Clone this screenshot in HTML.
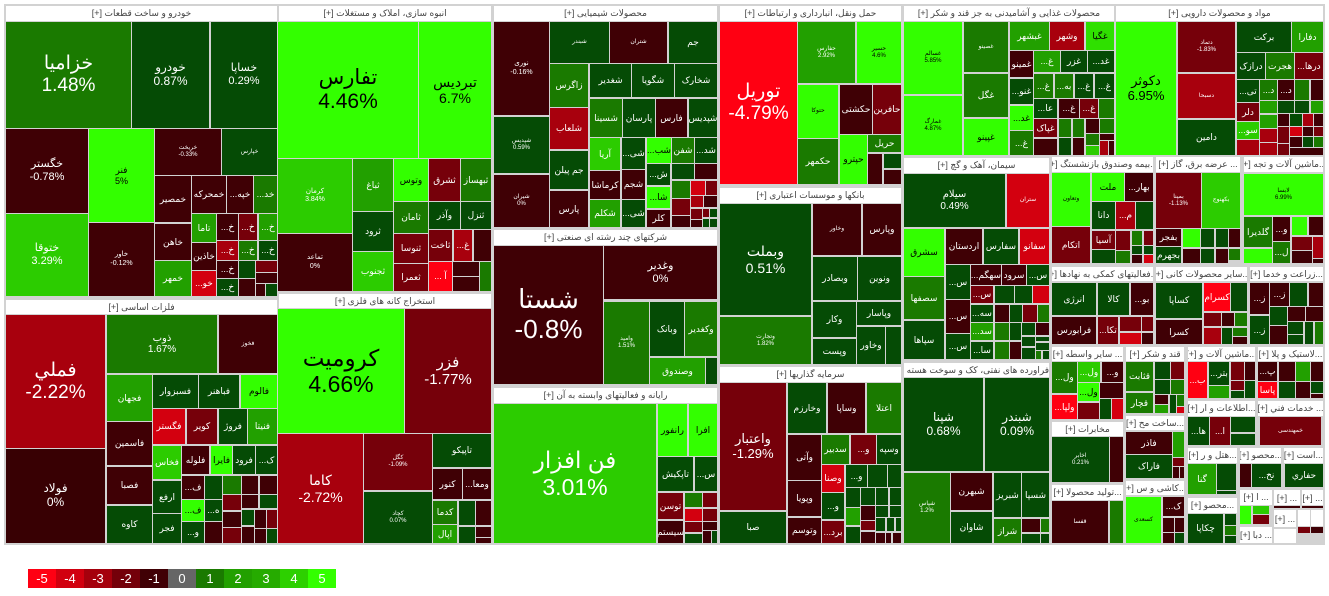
<!DOCTYPE html>
<html><head><meta charset="utf-8">
<style>
html,body{margin:0;padding:0;}
body{width:1329px;height:596px;position:relative;overflow:hidden;background:#fff;font-family:"Liberation Sans","DejaVu Sans",sans-serif;}
#m{position:absolute;left:4px;top:4px;width:1321px;height:541px;background:#d2d2d2;}
.t{position:absolute;display:flex;align-items:center;justify-content:center;text-align:center;color:#fff;overflow:hidden;font-size:9px;line-height:1.15;white-space:nowrap;}
.h{position:absolute;background:#fff;color:#444;font-size:9px;display:flex;align-items:center;justify-content:center;direction:rtl;overflow:hidden;white-space:nowrap;height:15px;}
.g0{background:#054b05}.g1{background:#1a7a00}.g2{background:#22a000}.g3{background:#2ccc00}.g4{background:#33ff00;color:#000}
.r0{background:#3f0005}.r1{background:#76000a}.r2{background:#a8000d}.r3{background:#d3000f}.r4{background:#ff0012}
.w{background:#fff}
.lg{position:absolute;top:569px;width:28px;height:19px;color:#fff;font-size:13px;display:flex;align-items:center;justify-content:center;}
</style></head><body>
<div id="m"></div>

<!-- خودرو -->
<div class="h" style="left:6px;top:6px;width:271px">خودرو و ساخت قطعات [+]</div>
<div class="t g1" style="left:6px;top:22px;width:125px;height:106px;font-size:19px">خزامیا<br>1.48%</div>
<div class="t g0" style="left:132px;top:22px;width:77px;height:106px;font-size:12px">خودرو<br>0.87%</div>
<div class="t g0" style="left:211px;top:22px;width:66px;height:106px;font-size:11px">خساپا<br>0.29%</div>
<div class="t r0" style="left:6px;top:129px;width:82px;height:84px;font-size:11px">خگستر<br>-0.78%</div>
<div class="t g4" style="left:89px;top:129px;width:65px;height:93px">فنر<br>5%</div>
<div class="t g3" style="left:6px;top:214px;width:82px;height:82px;font-size:11px">ختوقا<br>3.29%</div>
<div class="t r0" style="left:89px;top:223px;width:65px;height:73px;font-size:7px">خاور<br>-0.12%</div>
<div class="t r0" style="left:155px;top:129px;width:66px;height:46px;font-size:6px">خریخت<br>-0.33%</div>
<div class="t g0" style="left:222px;top:129px;width:55px;height:46px;font-size:6px">خپارس</div>
<div class="t r0" style="left:155px;top:176px;width:36px;height:46px">خمصیر</div>
<div class="t r0" style="left:192px;top:176px;width:34px;height:37px">خمحرکه</div>
<div class="t r0" style="left:227px;top:176px;width:26px;height:37px">...خپه</div>
<div class="t g1" style="left:254px;top:176px;width:23px;height:37px">...خد</div>
<div class="t r0" style="left:155px;top:224px;width:36px;height:36px">خاهن</div>
<div class="t g2" style="left:155px;top:261px;width:36px;height:35px">خمهر</div>
<div class="t g2" style="left:192px;top:214px;width:24px;height:28px">تاما</div>
<div class="t r0" style="left:192px;top:243px;width:24px;height:27px">خاذین</div>
<div class="t r3" style="left:192px;top:271px;width:24px;height:25px">...خو</div>
<div class="t r0" style="left:217px;top:214px;width:21px;height:26px">...خ</div>
<div class="t r1" style="left:239px;top:214px;width:18px;height:26px">...خ</div>
<div class="t g2" style="left:259px;top:214px;width:18px;height:26px">...خ</div>
<div class="t r2" style="left:217px;top:241px;width:21px;height:19px">...خ</div>
<div class="t g1" style="left:239px;top:241px;width:18px;height:19px">...خ</div>
<div class="t g0" style="left:259px;top:241px;width:18px;height:19px">...خ</div>
<div class="t r0" style="left:217px;top:261px;width:21px;height:17px">...خ</div>
<div class="t g0" style="left:217px;top:279px;width:21px;height:17px">...خ</div>
<div class="t g0" style="left:239px;top:261px;width:16px;height:17px"></div>
<div class="t r0" style="left:239px;top:279px;width:16px;height:17px"></div>
<div class="t r1" style="left:256px;top:261px;width:21px;height:11px"></div>
<div class="t r0" style="left:256px;top:273px;width:21px;height:10px"></div>
<div class="t r0" style="left:256px;top:284px;width:9px;height:12px"></div>
<div class="t g0" style="left:266px;top:284px;width:11px;height:12px"></div>

<!-- فلزات اساسی -->
<div class="h" style="left:6px;top:300px;width:271px;height:14px">فلزات اساسی [+]</div>
<div class="t r2" style="left:6px;top:315px;width:99px;height:133px;font-size:19px">فملي<br>-2.22%</div>
<div class="t r0" style="left:6px;top:449px;width:99px;height:94px;font-size:12px;background:#380003">فولاد<br>0%</div>
<div class="t g1" style="left:107px;top:315px;width:110px;height:58px;font-size:10px">ذوب<br>1.67%</div>
<div class="t r0" style="left:219px;top:315px;width:58px;height:58px;font-size:6px">فخوز</div>
<div class="t g2" style="left:107px;top:375px;width:45px;height:46px">فجهان</div>
<div class="t g0" style="left:153px;top:375px;width:45px;height:33px">فسبزوار</div>
<div class="t g0" style="left:199px;top:375px;width:40px;height:33px">فباهنر</div>
<div class="t g4" style="left:241px;top:375px;width:36px;height:33px">فالوم</div>
<div class="t r0" style="left:107px;top:422px;width:45px;height:43px">فاسمین</div>
<div class="t r0" style="left:107px;top:467px;width:45px;height:37px">فصبا</div>
<div class="t g0" style="left:107px;top:506px;width:45px;height:37px">کاوه</div>
<div class="t r3" style="left:153px;top:409px;width:32px;height:35px">فگستر</div>
<div class="t r1" style="left:187px;top:409px;width:30px;height:35px">کویر</div>
<div class="t g0" style="left:219px;top:409px;width:28px;height:35px">فروژ</div>
<div class="t g2" style="left:248px;top:409px;width:29px;height:35px">فنیتا</div>
<div class="t g3" style="left:153px;top:446px;width:28px;height:33px">فخاس</div>
<div class="t r0" style="left:182px;top:446px;width:27px;height:28px">فلوله</div>
<div class="t g4" style="left:211px;top:446px;width:21px;height:28px">فایرا</div>
<div class="t g0" style="left:233px;top:446px;width:22px;height:28px">فرود</div>
<div class="t g0" style="left:256px;top:446px;width:21px;height:28px">...ک</div>
<div class="t g0" style="left:153px;top:481px;width:28px;height:32px">ارفع</div>
<div class="t g0" style="left:153px;top:514px;width:28px;height:29px">فجر</div>
<div class="t r0" style="left:182px;top:476px;width:22px;height:23px">...ف</div>
<div class="t g4" style="left:182px;top:500px;width:22px;height:21px">...ف</div>
<div class="t g0" style="left:182px;top:522px;width:22px;height:21px">...و</div>
<div class="t g0" style="left:205px;top:476px;width:17px;height:23px"></div>
<div class="t g0" style="left:205px;top:500px;width:17px;height:21px">...ه</div>
<div class="t r0" style="left:205px;top:522px;width:17px;height:21px"></div>
<div class="t g1" style="left:223px;top:476px;width:18px;height:18px"></div>
<div class="t r1" style="left:223px;top:495px;width:18px;height:15px"></div>
<div class="t r0" style="left:223px;top:512px;width:18px;height:15px"></div>
<div class="t r1" style="left:223px;top:528px;width:18px;height:15px"></div>
<div class="t r0" style="left:242px;top:476px;width:16px;height:18px"></div>
<div class="t r0" style="left:260px;top:476px;width:17px;height:18px"></div>
<div class="t r0" style="left:242px;top:495px;width:16px;height:13px"></div>
<div class="t g0" style="left:260px;top:495px;width:17px;height:13px"></div>
<div class="t g0" style="left:242px;top:510px;width:12px;height:15px"></div>
<div class="t r0" style="left:255px;top:510px;width:11px;height:18px"></div>
<div class="t r1" style="left:267px;top:510px;width:10px;height:18px"></div>
<div class="t r0" style="left:242px;top:527px;width:12px;height:16px"></div>
<div class="t r0" style="left:255px;top:529px;width:11px;height:14px"></div>
<div class="t g0" style="left:267px;top:529px;width:10px;height:14px"></div>

<!-- انبوه سازی -->
<div class="h" style="left:279px;top:6px;width:212px">انبوه سازی، املاک و مستغلات [+]</div>
<div class="t g4" style="left:278px;top:22px;width:140px;height:136px;font-size:21px">تفارس<br>4.46%</div>
<div class="t g4" style="left:419px;top:22px;width:72px;height:136px;font-size:14px">تبردیس<br>6.7%</div>
<div class="t g3" style="left:278px;top:159px;width:74px;height:74px;font-size:7px">کرمان<br>3.84%</div>
<div class="t r0" style="left:278px;top:234px;width:74px;height:57px;font-size:7px">تماعد<br>0%</div>
<div class="t g2" style="left:353px;top:159px;width:40px;height:52px">ثباغ</div>
<div class="t g0" style="left:353px;top:212px;width:40px;height:39px">ثرود</div>
<div class="t g3" style="left:353px;top:252px;width:40px;height:39px">ثجنوب</div>
<div class="t g4" style="left:394px;top:159px;width:34px;height:42px">وتوس</div>
<div class="t g1" style="left:394px;top:202px;width:34px;height:31px">ثامان</div>
<div class="t r1" style="left:394px;top:234px;width:34px;height:29px">ثنوسا</div>
<div class="t r1" style="left:394px;top:264px;width:34px;height:27px">ثعمرا</div>
<div class="t r1" style="left:429px;top:159px;width:31px;height:42px">ثشرق</div>
<div class="t g0" style="left:429px;top:202px;width:31px;height:27px">وآذر</div>
<div class="t r1" style="left:429px;top:230px;width:23px;height:31px">ثاخت</div>
<div class="t r2" style="left:454px;top:230px;width:18px;height:31px">...غ</div>
<div class="t r4" style="left:429px;top:262px;width:23px;height:29px">... آ</div>
<div class="t g1" style="left:461px;top:159px;width:30px;height:42px">ثبهساز</div>
<div class="t g0" style="left:461px;top:202px;width:30px;height:27px">ثنزل</div>
<div class="t r0" style="left:474px;top:230px;width:17px;height:31px"></div>
<div class="t r0" style="left:453px;top:262px;width:26px;height:14px"></div>
<div class="t r0" style="left:453px;top:277px;width:26px;height:14px"></div>
<div class="t g1" style="left:480px;top:262px;width:11px;height:29px"></div>

<!-- استخراج کانه -->
<div class="h" style="left:279px;top:294px;width:212px;height:14px">استخراج کانه های فلزی [+]</div>
<div class="t g4" style="left:278px;top:309px;width:126px;height:124px;font-size:23px">کرومیت<br>4.66%</div>
<div class="t r1" style="left:405px;top:309px;width:86px;height:124px;font-size:15px">فزر<br>-1.77%</div>
<div class="t r2" style="left:278px;top:434px;width:85px;height:109px;font-size:14px">کاما<br>-2.72%</div>
<div class="t r1" style="left:364px;top:434px;width:68px;height:56px;font-size:6px">کگل<br>-1.09%</div>
<div class="t g0" style="left:364px;top:492px;width:68px;height:51px;font-size:6px">کچاد<br>0.07%</div>
<div class="t g0" style="left:433px;top:434px;width:58px;height:33px">تاپیکو</div>
<div class="t r0" style="left:433px;top:469px;width:29px;height:30px">کنور</div>
<div class="t r0" style="left:463px;top:469px;width:28px;height:30px">...ومعا</div>
<div class="t g1" style="left:433px;top:501px;width:24px;height:23px">کدما</div>
<div class="t g2" style="left:433px;top:525px;width:24px;height:18px">اپال</div>
<div class="t g0" style="left:459px;top:501px;width:16px;height:24px"></div>
<div class="t r0" style="left:476px;top:501px;width:15px;height:24px"></div>
<div class="t g0" style="left:459px;top:527px;width:16px;height:16px"></div>
<div class="t r0" style="left:476px;top:527px;width:15px;height:10px"></div>
<div class="t r0" style="left:476px;top:538px;width:15px;height:5px"></div>

<!-- شیمیایی -->
<div class="h" style="left:494px;top:6px;width:223px">محصولات شیمیایی [+]</div>
<div class="t r0" style="left:494px;top:22px;width:55px;height:93px;font-size:7px">نوری<br>-0.16%</div>
<div class="t g0" style="left:494px;top:117px;width:55px;height:56px;font-size:6px">شپدیس<br>0.59%</div>
<div class="t r0" style="left:494px;top:175px;width:55px;height:52px;font-size:6px">شیران<br>0%</div>
<div class="t g0" style="left:550px;top:22px;width:59px;height:41px;font-size:6px">شبندر</div>
<div class="t r0" style="left:610px;top:22px;width:57px;height:41px;font-size:6px">شتران</div>
<div class="t g0" style="left:669px;top:22px;width:48px;height:41px">جم</div>
<div class="t g1" style="left:550px;top:64px;width:38px;height:43px">زاگرس</div>
<div class="t r2" style="left:550px;top:108px;width:38px;height:41px">شلعاب</div>
<div class="t g0" style="left:550px;top:151px;width:38px;height:38px">جم پیلن</div>
<div class="t r0" style="left:550px;top:191px;width:38px;height:36px">پارس</div>
<div class="t g0" style="left:590px;top:64px;width:41px;height:33px">شغدیر</div>
<div class="t g0" style="left:632px;top:64px;width:42px;height:33px">شگویا</div>
<div class="t g0" style="left:675px;top:64px;width:42px;height:33px">شخارک</div>
<div class="t g1" style="left:590px;top:99px;width:32px;height:38px">شسینا</div>
<div class="t g0" style="left:623px;top:99px;width:32px;height:38px">پارسان</div>
<div class="t r0" style="left:656px;top:99px;width:31px;height:38px">فارس</div>
<div class="t g0" style="left:689px;top:99px;width:28px;height:38px">شپدیس</div>
<div class="t g3" style="left:590px;top:138px;width:30px;height:32px">آریا</div>
<div class="t r0" style="left:590px;top:171px;width:30px;height:28px">کرماشا</div>
<div class="t g2" style="left:590px;top:200px;width:30px;height:27px">شکلم</div>
<div class="t g0" style="left:622px;top:138px;width:23px;height:31px">...شی</div>
<div class="t r0" style="left:622px;top:170px;width:23px;height:29px">شجم</div>
<div class="t g0" style="left:622px;top:200px;width:23px;height:27px">...شی</div>
<div class="t g4" style="left:647px;top:138px;width:24px;height:25px">...شب</div>
<div class="t g1" style="left:672px;top:138px;width:22px;height:25px">شفن</div>
<div class="t g0" style="left:695px;top:138px;width:22px;height:25px">...شد</div>
<div class="t g0" style="left:647px;top:164px;width:23px;height:21px">...ش</div>
<div class="t g4" style="left:647px;top:187px;width:23px;height:21px">...شا</div>
<div class="t r0" style="left:647px;top:210px;width:23px;height:17px">کلر</div>
<div class="t g0" style="left:672px;top:164px;width:22px;height:15px"></div>
<div class="t r0" style="left:695px;top:164px;width:22px;height:15px"></div>
<div class="t g1" style="left:672px;top:181px;width:18px;height:17px"></div>
<div class="t r3" style="left:691px;top:181px;width:14px;height:14px"></div>
<div class="t r1" style="left:706px;top:181px;width:11px;height:14px"></div>
<div class="t r1" style="left:672px;top:199px;width:18px;height:16px"></div>
<div class="t r0" style="left:672px;top:216px;width:18px;height:11px"></div>
<div class="t r2" style="left:691px;top:196px;width:12px;height:11px"></div>
<div class="t r0" style="left:704px;top:196px;width:13px;height:11px"></div>
<div class="t r1" style="left:691px;top:209px;width:11px;height:10px"></div>
<div class="t r0" style="left:691px;top:220px;width:11px;height:7px"></div>
<div class="t r1" style="left:703px;top:209px;width:6px;height:8px"></div>
<div class="t g0" style="left:710px;top:209px;width:7px;height:8px"></div>
<div class="t g0" style="left:703px;top:219px;width:6px;height:8px"></div>
<div class="t g0" style="left:710px;top:219px;width:7px;height:8px"></div>

<!-- چند رشته ای -->
<div class="h" style="left:494px;top:230px;width:223px">شرکتهای چند رشته ای صنعتی [+]</div>
<div class="t r0" style="left:494px;top:246px;width:109px;height:138px;font-size:26px">شستا<br>-0.8%</div>
<div class="t r0" style="left:604px;top:246px;width:113px;height:53px;font-size:11px">وغدیر<br>0%</div>
<div class="t g1" style="left:604px;top:302px;width:45px;height:82px;font-size:6px">وامید<br>1.51%</div>
<div class="t g0" style="left:650px;top:302px;width:34px;height:54px">وبانک</div>
<div class="t g1" style="left:685px;top:302px;width:32px;height:54px">وکغدیر</div>
<div class="t g2" style="left:650px;top:358px;width:55px;height:26px">وصندوق</div>
<div class="t g0" style="left:706px;top:358px;width:11px;height:26px"></div>

<!-- رایانه -->
<div class="h" style="left:494px;top:388px;width:223px">رایانه و فعالیتهای وابسته به آن [+]</div>
<div class="t g3" style="left:494px;top:404px;width:162px;height:139px;font-size:23px">فن افزار<br>3.01%</div>
<div class="t g4" style="left:658px;top:404px;width:29px;height:52px">رانفور</div>
<div class="t g4" style="left:689px;top:404px;width:28px;height:52px">افرا</div>
<div class="t g0" style="left:658px;top:457px;width:35px;height:34px">تاپکیش</div>
<div class="t g0" style="left:695px;top:457px;width:22px;height:34px">...س</div>
<div class="t r1" style="left:658px;top:493px;width:25px;height:26px">توسن</div>
<div class="t r0" style="left:658px;top:521px;width:25px;height:22px">سیستم</div>
<div class="t g1" style="left:685px;top:493px;width:17px;height:14px"></div>
<div class="t r1" style="left:703px;top:493px;width:14px;height:14px"></div>
<div class="t r3" style="left:685px;top:509px;width:17px;height:12px"></div>
<div class="t r1" style="left:703px;top:509px;width:14px;height:12px"></div>
<div class="t r1" style="left:685px;top:522px;width:17px;height:10px"></div>
<div class="t r0" style="left:703px;top:522px;width:14px;height:8px"></div>
<div class="t g0" style="left:685px;top:534px;width:17px;height:9px"></div>
<div class="t r0" style="left:703px;top:531px;width:8px;height:12px"></div>
<div class="t g0" style="left:712px;top:531px;width:5px;height:12px"></div>

<!-- حمل و نقل -->
<div class="h" style="left:720px;top:6px;width:181px">حمل ونقل، انبارداری و ارتباطات [+]</div>
<div class="t r4" style="left:720px;top:22px;width:77px;height:162px;font-size:19px">توریل<br>-4.79%</div>
<div class="t g2" style="left:798px;top:22px;width:57px;height:61px;font-size:6px">حفارس<br>2.92%</div>
<div class="t g4" style="left:857px;top:22px;width:44px;height:61px;font-size:6px">حسیر<br>4.6%</div>
<div class="t g4" style="left:798px;top:85px;width:40px;height:53px;font-size:6px">حتوکا</div>
<div class="t r0" style="left:840px;top:85px;width:32px;height:49px">حکشتی</div>
<div class="t r1" style="left:873px;top:85px;width:28px;height:49px">حافرین</div>
<div class="t g1" style="left:798px;top:139px;width:40px;height:45px">حکمهر</div>
<div class="t g4" style="left:840px;top:135px;width:27px;height:49px">حپترو</div>
<div class="t g1" style="left:868px;top:135px;width:33px;height:17px">حریل</div>
<div class="t r0" style="left:868px;top:154px;width:14px;height:30px"></div>
<div class="t g0" style="left:884px;top:154px;width:17px;height:14px"></div>
<div class="t r0" style="left:884px;top:170px;width:17px;height:14px"></div>

<!-- بانکها -->
<div class="h" style="left:720px;top:188px;width:181px">بانکها و موسسات اعتباری [+]</div>
<div class="t g0" style="left:720px;top:204px;width:91px;height:111px;font-size:14px">وبملت<br>0.51%</div>
<div class="t g1" style="left:720px;top:317px;width:91px;height:47px;font-size:6px">وتجارت<br>1.82%</div>
<div class="t r0" style="left:813px;top:204px;width:48px;height:51px;font-size:6px">وخاور</div>
<div class="t r0" style="left:863px;top:204px;width:38px;height:51px">وپارس</div>
<div class="t g0" style="left:813px;top:257px;width:44px;height:43px">وبصادر</div>
<div class="t g0" style="left:858px;top:257px;width:43px;height:43px">ونوین</div>
<div class="t g0" style="left:813px;top:302px;width:43px;height:35px">وکار</div>
<div class="t g0" style="left:813px;top:339px;width:43px;height:25px">وپست</div>
<div class="t g0" style="left:857px;top:302px;width:44px;height:23px">وپاسار</div>
<div class="t g0" style="left:857px;top:327px;width:28px;height:37px">وخاور</div>
<div class="t g0" style="left:886px;top:327px;width:15px;height:37px"></div>

<!-- سرمایه گذاریها -->
<div class="h" style="left:720px;top:367px;width:181px">سرمایه گذاریها [+]</div>
<div class="t r1" style="left:720px;top:383px;width:66px;height:127px;font-size:13px">واعتبار<br>-1.29%</div>
<div class="t g0" style="left:720px;top:512px;width:66px;height:31px">صبا</div>
<div class="t g0" style="left:788px;top:383px;width:38px;height:50px">وخارزم</div>
<div class="t r0" style="left:828px;top:383px;width:37px;height:50px">وساپا</div>
<div class="t g1" style="left:867px;top:383px;width:34px;height:50px">اعتلا</div>
<div class="t r0" style="left:788px;top:435px;width:33px;height:45px">وآتی</div>
<div class="t r0" style="left:788px;top:481px;width:33px;height:35px">وپویا</div>
<div class="t r0" style="left:788px;top:518px;width:33px;height:25px">وتوسم</div>
<div class="t g1" style="left:822px;top:435px;width:27px;height:29px">سدبیر</div>
<div class="t r1" style="left:851px;top:435px;width:25px;height:29px">...و</div>
<div class="t g0" style="left:877px;top:435px;width:24px;height:29px">وسپه</div>
<div class="t r3" style="left:822px;top:465px;width:22px;height:27px">وصنا</div>
<div class="t g0" style="left:846px;top:465px;width:21px;height:22px">...و</div>
<div class="t g0" style="left:868px;top:465px;width:19px;height:22px"></div>
<div class="t g0" style="left:888px;top:465px;width:13px;height:22px"></div>
<div class="t g0" style="left:822px;top:493px;width:22px;height:26px">...و</div>
<div class="t r1" style="left:822px;top:521px;width:22px;height:22px">...برد</div>
<div class="t g0" style="left:846px;top:488px;width:14px;height:19px"></div>
<div class="t g0" style="left:861px;top:488px;width:14px;height:17px"></div>
<div class="t g0" style="left:876px;top:488px;width:12px;height:17px"></div>
<div class="t g0" style="left:890px;top:488px;width:11px;height:17px"></div>
<div class="t g2" style="left:846px;top:508px;width:14px;height:17px"></div>
<div class="t g0" style="left:846px;top:527px;width:14px;height:16px"></div>
<div class="t r0" style="left:861px;top:506px;width:14px;height:14px"></div>
<div class="t r1" style="left:861px;top:521px;width:14px;height:9px"></div>
<div class="t r0" style="left:861px;top:532px;width:14px;height:11px"></div>
<div class="t g0" style="left:876px;top:506px;width:12px;height:11px"></div>
<div class="t g0" style="left:890px;top:506px;width:11px;height:11px"></div>
<div class="t g0" style="left:876px;top:518px;width:9px;height:13px"></div>
<div class="t g0" style="left:887px;top:518px;width:7px;height:13px"></div>
<div class="t g0" style="left:896px;top:518px;width:5px;height:13px"></div>
<div class="t r0" style="left:876px;top:533px;width:9px;height:10px"></div>
<div class="t r0" style="left:886px;top:533px;width:5px;height:10px"></div>
<div class="t r0" style="left:893px;top:533px;width:8px;height:10px"></div>

<!-- غذایی -->
<div class="h" style="left:904px;top:6px;width:210px">محصولات غذایی و آشامیدنی به جز قند و شکر [+]</div>
<div class="t g4" style="left:904px;top:22px;width:58px;height:72px;font-size:6px">غسالم<br>5.85%</div>
<div class="t g4" style="left:904px;top:96px;width:58px;height:59px;font-size:6px">غمارگ<br>4.87%</div>
<div class="t g1" style="left:964px;top:22px;width:44px;height:50px;font-size:6px">غصینو</div>
<div class="t g1" style="left:964px;top:74px;width:44px;height:43px">غگل</div>
<div class="t g4" style="left:964px;top:119px;width:44px;height:36px">غپینو</div>
<div class="t g2" style="left:1010px;top:22px;width:39px;height:28px">غبشهر</div>
<div class="t r2" style="left:1050px;top:22px;width:34px;height:28px">وشهر</div>
<div class="t g4" style="left:1086px;top:22px;width:28px;height:28px;background:#2fe000">غگیا</div>
<div class="t r0" style="left:1010px;top:51px;width:23px;height:26px">غمینو</div>
<div class="t g0" style="left:1010px;top:79px;width:23px;height:25px">...غنو</div>
<div class="t g4" style="left:1010px;top:106px;width:23px;height:24px">...غد</div>
<div class="t g1" style="left:1010px;top:131px;width:23px;height:24px">...غ</div>
<div class="t g2" style="left:1034px;top:51px;width:26px;height:21px">...غ</div>
<div class="t g0" style="left:1061px;top:51px;width:26px;height:21px">غزر</div>
<div class="t g0" style="left:1088px;top:51px;width:26px;height:21px">...غد</div>
<div class="t g1" style="left:1034px;top:74px;width:19px;height:24px">...غ</div>
<div class="t g1" style="left:1055px;top:74px;width:18px;height:24px">...به</div>
<div class="t g0" style="left:1075px;top:74px;width:18px;height:24px">...غ</div>
<div class="t g0" style="left:1095px;top:74px;width:19px;height:24px">...غ</div>
<div class="t g0" style="left:1034px;top:99px;width:23px;height:19px">...عا</div>
<div class="t r0" style="left:1059px;top:99px;width:20px;height:19px">...غ</div>
<div class="t r1" style="left:1080px;top:99px;width:18px;height:19px">...غ</div>
<div class="t g1" style="left:1099px;top:99px;width:15px;height:19px"></div>
<div class="t r1" style="left:1034px;top:119px;width:23px;height:18px">غپاک</div>
<div class="t r0" style="left:1034px;top:139px;width:23px;height:16px"></div>
<div class="t g1" style="left:1059px;top:119px;width:12px;height:18px"></div>
<div class="t g1" style="left:1073px;top:119px;width:11px;height:18px"></div>
<div class="t r0" style="left:1086px;top:119px;width:13px;height:14px"></div>
<div class="t g1" style="left:1100px;top:119px;width:14px;height:14px"></div>
<div class="t g0" style="left:1059px;top:138px;width:12px;height:17px"></div>
<div class="t r0" style="left:1073px;top:138px;width:11px;height:17px"></div>
<div class="t g1" style="left:1086px;top:134px;width:13px;height:11px"></div>
<div class="t g3" style="left:1086px;top:146px;width:13px;height:9px"></div>
<div class="t r0" style="left:1100px;top:134px;width:14px;height:6px"></div>
<div class="t r2" style="left:1100px;top:141px;width:8px;height:14px"></div>
<div class="t r0" style="left:1109px;top:141px;width:5px;height:14px"></div>

<!-- دارویی -->
<div class="h" style="left:1116px;top:6px;width:207px">مواد و محصولات دارویی [+]</div>
<div class="t g4" style="left:1116px;top:22px;width:60px;height:133px;font-size:13px">دکوثر<br>6.95%</div>
<div class="t r1" style="left:1178px;top:22px;width:57px;height:50px;font-size:6px">دتماد<br>-1.83%</div>
<div class="t r2" style="left:1178px;top:74px;width:57px;height:44px;font-size:6px">دسبحا</div>
<div class="t g0" style="left:1178px;top:120px;width:57px;height:35px">دامین</div>
<div class="t g0" style="left:1237px;top:22px;width:54px;height:30px">برکت</div>
<div class="t g2" style="left:1292px;top:22px;width:31px;height:30px">دفارا</div>
<div class="t g0" style="left:1237px;top:53px;width:28px;height:26px">درازک</div>
<div class="t g1" style="left:1266px;top:53px;width:28px;height:26px">هجرت</div>
<div class="t r1" style="left:1295px;top:53px;width:28px;height:26px">...درها</div>
<div class="t g0" style="left:1237px;top:80px;width:22px;height:22px">...تی</div>
<div class="t g1" style="left:1260px;top:80px;width:17px;height:20px">...د</div>
<div class="t r0" style="left:1278px;top:80px;width:16px;height:20px">...د</div>
<div class="t g1" style="left:1295px;top:80px;width:14px;height:20px"></div>
<div class="t r0" style="left:1311px;top:80px;width:12px;height:20px"></div>
<div class="t r1" style="left:1237px;top:103px;width:22px;height:18px">دلر</div>
<div class="t g3" style="left:1237px;top:122px;width:22px;height:17px">...سو</div>
<div class="t r2" style="left:1237px;top:140px;width:22px;height:15px"></div>
<div class="t g2" style="left:1260px;top:101px;width:17px;height:12px"></div>
<div class="t g0" style="left:1278px;top:101px;width:16px;height:12px"></div>
<div class="t g0" style="left:1295px;top:101px;width:14px;height:12px"></div>
<div class="t g2" style="left:1311px;top:101px;width:12px;height:12px"></div>
<div class="t g2" style="left:1260px;top:115px;width:17px;height:13px"></div>
<div class="t r2" style="left:1260px;top:129px;width:17px;height:13px"></div>
<div class="t r2" style="left:1260px;top:143px;width:17px;height:12px"></div>
<div class="t r0" style="left:1278px;top:114px;width:11px;height:12px"></div>
<div class="t g0" style="left:1290px;top:114px;width:12px;height:12px"></div>
<div class="t r2" style="left:1303px;top:114px;width:10px;height:12px"></div>
<div class="t r0" style="left:1314px;top:114px;width:9px;height:12px"></div>
<div class="t r1" style="left:1278px;top:127px;width:11px;height:16px"></div>
<div class="t r1" style="left:1278px;top:144px;width:11px;height:11px"></div>
<div class="t r3" style="left:1290px;top:127px;width:12px;height:9px"></div>
<div class="t r0" style="left:1290px;top:137px;width:12px;height:10px"></div>
<div class="t r0" style="left:1303px;top:127px;width:10px;height:9px"></div>
<div class="t r1" style="left:1314px;top:127px;width:9px;height:9px"></div>
<div class="t g0" style="left:1303px;top:137px;width:10px;height:10px"></div>
<div class="t g1" style="left:1314px;top:137px;width:9px;height:10px"></div>
<div class="t r0" style="left:1290px;top:148px;width:33px;height:7px"></div>

<!-- سیمان -->
<div class="h" style="left:904px;top:158px;width:145px">سیمان، آهک و گچ [+]</div>
<div class="t g0" style="left:904px;top:174px;width:101px;height:53px;font-size:10px">سیلام<br>0.49%</div>
<div class="t r3" style="left:1007px;top:174px;width:42px;height:53px;font-size:6px">ستران</div>
<div class="t g4" style="left:904px;top:229px;width:40px;height:47px">سشرق</div>
<div class="t r0" style="left:946px;top:229px;width:36px;height:35px">اردستان</div>
<div class="t g0" style="left:984px;top:229px;width:34px;height:35px">سفارس</div>
<div class="t r3" style="left:1020px;top:229px;width:29px;height:35px">سفانو</div>
<div class="t g1" style="left:904px;top:277px;width:40px;height:42px">سصفها</div>
<div class="t g0" style="left:904px;top:321px;width:40px;height:38px">سپاها</div>
<div class="t g0" style="left:946px;top:265px;width:24px;height:34px">...س</div>
<div class="t r0" style="left:946px;top:300px;width:24px;height:33px">...س</div>
<div class="t g0" style="left:946px;top:334px;width:24px;height:25px">...س</div>
<div class="t r0" style="left:971px;top:265px;width:30px;height:20px">...سهگم</div>
<div class="t r0" style="left:1002px;top:265px;width:24px;height:20px">سرود</div>
<div class="t g0" style="left:1027px;top:265px;width:22px;height:20px">...س</div>
<div class="t r1" style="left:971px;top:286px;width:22px;height:17px">...س</div>
<div class="t g0" style="left:995px;top:286px;width:19px;height:17px"></div>
<div class="t g0" style="left:1015px;top:286px;width:17px;height:17px"></div>
<div class="t r3" style="left:1033px;top:286px;width:16px;height:17px"></div>
<div class="t g0" style="left:971px;top:305px;width:22px;height:17px">...سه</div>
<div class="t g2" style="left:971px;top:323px;width:22px;height:17px">...سد</div>
<div class="t g0" style="left:971px;top:342px;width:22px;height:17px">...سا</div>
<div class="t r0" style="left:995px;top:305px;width:14px;height:17px"></div>
<div class="t g0" style="left:1010px;top:305px;width:12px;height:17px"></div>
<div class="t r1" style="left:1023px;top:305px;width:14px;height:17px"></div>
<div class="t g1" style="left:1038px;top:305px;width:11px;height:17px"></div>
<div class="t g1" style="left:995px;top:323px;width:14px;height:17px"></div>
<div class="t g1" style="left:995px;top:342px;width:14px;height:17px"></div>
<div class="t g0" style="left:1010px;top:323px;width:11px;height:17px"></div>
<div class="t r0" style="left:1010px;top:342px;width:11px;height:17px"></div>
<div class="t g0" style="left:1022px;top:323px;width:13px;height:12px"></div>
<div class="t r0" style="left:1036px;top:323px;width:13px;height:12px"></div>
<div class="t g0" style="left:1022px;top:337px;width:13px;height:9px"></div>
<div class="t g0" style="left:1022px;top:348px;width:13px;height:11px"></div>
<div class="t g0" style="left:1036px;top:337px;width:13px;height:4px"></div>
<div class="t g0" style="left:1036px;top:343px;width:13px;height:7px"></div>
<div class="t g1" style="left:1036px;top:351px;width:5px;height:8px"></div>
<div class="t g0" style="left:1043px;top:351px;width:6px;height:8px"></div>

<!-- فراورده نفتی -->
<div class="h" style="left:904px;top:363px;width:145px;height:14px">... فراورده های نفتی، کک و سوخت هسته [+]</div>
<div class="t g0" style="left:904px;top:378px;width:79px;height:93px;font-size:12px">شپنا<br>0.68%</div>
<div class="t g0" style="left:985px;top:378px;width:64px;height:93px;font-size:12px">شبندر<br>0.09%</div>
<div class="t g1" style="left:904px;top:473px;width:46px;height:70px;font-size:6px">شپاس<br>1.2%</div>
<div class="t r0" style="left:951px;top:473px;width:41px;height:37px">شبهرن</div>
<div class="t g0" style="left:951px;top:512px;width:41px;height:31px">شاوان</div>
<div class="t g0" style="left:994px;top:473px;width:27px;height:44px">شبریز</div>
<div class="t g1" style="left:994px;top:519px;width:27px;height:24px">شراز</div>
<div class="t g0" style="left:1022px;top:473px;width:27px;height:44px">شسپا</div>
<div class="t r0" style="left:1022px;top:519px;width:18px;height:13px"></div>
<div class="t g1" style="left:1041px;top:519px;width:8px;height:13px"></div>
<div class="t g0" style="left:1022px;top:534px;width:18px;height:9px"></div>
<div class="t g0" style="left:1041px;top:534px;width:8px;height:9px"></div>

<!-- بیمه -->
<div class="h" style="left:1052px;top:157px;width:101px">...بیمه وصندوق بازنشستگ [+]</div>
<div class="t g4" style="left:1052px;top:173px;width:38px;height:53px;font-size:6px">وتعاون</div>
<div class="t r1" style="left:1052px;top:227px;width:38px;height:36px">اتکام</div>
<div class="t g4" style="left:1092px;top:173px;width:32px;height:28px">ملت</div>
<div class="t r0" style="left:1125px;top:173px;width:28px;height:28px">...بهار</div>
<div class="t g0" style="left:1092px;top:202px;width:23px;height:27px">دانا</div>
<div class="t r2" style="left:1116px;top:202px;width:19px;height:27px">...م</div>
<div class="t g0" style="left:1136px;top:202px;width:17px;height:27px"></div>
<div class="t r1" style="left:1092px;top:231px;width:23px;height:18px">آسیا</div>
<div class="t g0" style="left:1092px;top:250px;width:23px;height:13px"></div>
<div class="t r1" style="left:1116px;top:231px;width:14px;height:19px"></div>
<div class="t g1" style="left:1116px;top:251px;width:14px;height:12px"></div>
<div class="t g1" style="left:1132px;top:231px;width:10px;height:14px"></div>
<div class="t r1" style="left:1144px;top:231px;width:9px;height:14px"></div>
<div class="t g0" style="left:1132px;top:246px;width:10px;height:8px"></div>
<div class="t g0" style="left:1144px;top:246px;width:9px;height:8px"></div>
<div class="t r0" style="left:1132px;top:255px;width:10px;height:8px"></div>
<div class="t r3" style="left:1144px;top:255px;width:9px;height:8px"></div>

<!-- عرضه برق -->
<div class="h" style="left:1156px;top:157px;width:84px">... عرضه برق، گاز [+]</div>
<div class="t r1" style="left:1156px;top:173px;width:45px;height:55px;font-size:6px">بمپنا<br>-1.13%</div>
<div class="t g3" style="left:1202px;top:173px;width:38px;height:55px;font-size:6px">بکهنوج</div>
<div class="t r0" style="left:1156px;top:229px;width:25px;height:17px">بفجر</div>
<div class="t g0" style="left:1156px;top:247px;width:25px;height:16px">بجهرم</div>
<div class="t g4" style="left:1183px;top:229px;width:17px;height:18px"></div>
<div class="t r0" style="left:1183px;top:249px;width:17px;height:14px"></div>
<div class="t g0" style="left:1201px;top:229px;width:13px;height:18px"></div>
<div class="t g0" style="left:1216px;top:229px;width:12px;height:18px"></div>
<div class="t r0" style="left:1229px;top:229px;width:11px;height:18px"></div>
<div class="t g0" style="left:1201px;top:249px;width:13px;height:14px"></div>
<div class="t r0" style="left:1216px;top:249px;width:12px;height:14px"></div>
<div class="t g1" style="left:1229px;top:249px;width:11px;height:11px"></div>

<!-- ماشین آلات و تجه -->
<div class="h" style="left:1244px;top:157px;width:79px">...ماشین آلات و تجه [+]</div>
<div class="t g4" style="left:1244px;top:174px;width:79px;height:41px;font-size:6px">لابسا<br>6.99%</div>
<div class="t g1" style="left:1244px;top:217px;width:28px;height:30px">گلدیرا</div>
<div class="t g4" style="left:1244px;top:249px;width:28px;height:14px"></div>
<div class="t r0" style="left:1273px;top:217px;width:17px;height:24px">...و</div>
<div class="t g1" style="left:1273px;top:242px;width:17px;height:21px">...ل</div>
<div class="t g4" style="left:1292px;top:217px;width:15px;height:18px"></div>
<div class="t r0" style="left:1309px;top:217px;width:14px;height:18px"></div>
<div class="t r1" style="left:1292px;top:237px;width:20px;height:13px"></div>
<div class="t r2" style="left:1313px;top:237px;width:10px;height:21px"></div>
<div class="t r0" style="left:1292px;top:251px;width:20px;height:12px"></div>
<div class="t r0" style="left:1313px;top:259px;width:10px;height:4px"></div>

<!-- فعالیتهای کمکی -->
<div class="h" style="left:1052px;top:267px;width:101px;height:14px">...فعالیتهای کمکی به نهادها [+]</div>
<div class="t g0" style="left:1052px;top:283px;width:44px;height:32px">انرژی</div>
<div class="t g0" style="left:1098px;top:283px;width:31px;height:32px">کالا</div>
<div class="t r0" style="left:1131px;top:283px;width:22px;height:32px">...بو</div>
<div class="t r0" style="left:1052px;top:317px;width:44px;height:27px">فرابورس</div>
<div class="t r1" style="left:1098px;top:317px;width:20px;height:27px">...تکا</div>
<div class="t r1" style="left:1120px;top:317px;width:21px;height:14px"></div>
<div class="t r1" style="left:1142px;top:317px;width:11px;height:14px"></div>
<div class="t r3" style="left:1120px;top:333px;width:21px;height:11px"></div>
<div class="t r0" style="left:1142px;top:333px;width:11px;height:11px"></div>

<!-- سایر محصولات کانی -->
<div class="h" style="left:1156px;top:267px;width:91px;height:14px">...سایر محصولات کانی [+]</div>
<div class="t g0" style="left:1156px;top:283px;width:46px;height:35px">کساپا</div>
<div class="t r0" style="left:1156px;top:320px;width:46px;height:24px">کسرا</div>
<div class="t r4" style="left:1204px;top:283px;width:26px;height:28px">کسرام</div>
<div class="t g0" style="left:1231px;top:283px;width:16px;height:28px"></div>
<div class="t r1" style="left:1204px;top:313px;width:17px;height:13px"></div>
<div class="t r2" style="left:1204px;top:328px;width:17px;height:16px"></div>
<div class="t r0" style="left:1222px;top:313px;width:12px;height:13px"></div>
<div class="t g1" style="left:1235px;top:313px;width:12px;height:13px"></div>
<div class="t g0" style="left:1222px;top:328px;width:10px;height:16px"></div>
<div class="t g1" style="left:1233px;top:328px;width:14px;height:8px"></div>
<div class="t r0" style="left:1233px;top:337px;width:14px;height:7px"></div>

<!-- زراعت -->
<div class="h" style="left:1250px;top:267px;width:73px;height:14px">...زراعت و خدما [+]</div>
<div class="t r0" style="left:1250px;top:283px;width:19px;height:31px">...ز</div>
<div class="t g0" style="left:1250px;top:316px;width:19px;height:28px">...ز</div>
<div class="t r0" style="left:1270px;top:283px;width:19px;height:23px">...ز</div>
<div class="t g0" style="left:1290px;top:283px;width:17px;height:23px"></div>
<div class="t r0" style="left:1309px;top:283px;width:14px;height:23px"></div>
<div class="t g0" style="left:1270px;top:307px;width:17px;height:18px"></div>
<div class="t r0" style="left:1270px;top:326px;width:17px;height:18px"></div>
<div class="t r0" style="left:1288px;top:307px;width:17px;height:14px"></div>
<div class="t r0" style="left:1306px;top:307px;width:17px;height:14px"></div>
<div class="t g0" style="left:1288px;top:322px;width:15px;height:12px"></div>
<div class="t g0" style="left:1288px;top:335px;width:15px;height:9px"></div>
<div class="t g0" style="left:1305px;top:322px;width:8px;height:22px"></div>
<div class="t g1" style="left:1315px;top:322px;width:8px;height:22px"></div>

<!-- سایر واسطه -->
<div class="h" style="left:1052px;top:347px;width:71px;height:14px">... سایر واسطه [+]</div>
<div class="t g1" style="left:1052px;top:362px;width:25px;height:31px">...ول</div>
<div class="t r4" style="left:1052px;top:395px;width:25px;height:24px">...ولپا</div>
<div class="t g3" style="left:1078px;top:362px;width:22px;height:20px">...ول</div>
<div class="t g4" style="left:1078px;top:383px;width:21px;height:18px">...ول</div>
<div class="t r1" style="left:1078px;top:403px;width:21px;height:16px"></div>
<div class="t r0" style="left:1102px;top:362px;width:21px;height:20px">...و</div>
<div class="t r0" style="left:1100px;top:383px;width:23px;height:15px"></div>
<div class="t g0" style="left:1100px;top:399px;width:11px;height:20px"></div>
<div class="t r3" style="left:1112px;top:399px;width:11px;height:20px"></div>

<!-- مخابرات -->
<div class="h" style="left:1052px;top:422px;width:71px;height:14px">مخابرات [+]</div>
<div class="t g0" style="left:1052px;top:437px;width:57px;height:45px;font-size:6px">اخابر<br>0.21%</div>
<div class="t r0" style="left:1110px;top:437px;width:13px;height:45px"></div>

<!-- تولید محصولا -->
<div class="h" style="left:1052px;top:485px;width:71px;height:15px">...تولید محصولا [+]</div>
<div class="t r0" style="left:1052px;top:501px;width:56px;height:42px;font-size:6px">قفسا</div>
<div class="t g1" style="left:1110px;top:501px;width:13px;height:42px"></div>

<!-- قند و شکر -->
<div class="h" style="left:1126px;top:347px;width:58px;height:14px">قند و شکر [+]</div>
<div class="t g1" style="left:1126px;top:362px;width:27px;height:29px">قثابت</div>
<div class="t g1" style="left:1126px;top:393px;width:27px;height:20px">قچار</div>
<div class="t g0" style="left:1155px;top:362px;width:15px;height:17px"></div>
<div class="t r1" style="left:1171px;top:362px;width:13px;height:17px"></div>
<div class="t g0" style="left:1155px;top:380px;width:15px;height:14px"></div>
<div class="t g1" style="left:1171px;top:380px;width:13px;height:14px"></div>
<div class="t r0" style="left:1155px;top:395px;width:13px;height:9px"></div>
<div class="t g2" style="left:1155px;top:405px;width:13px;height:8px"></div>
<div class="t g0" style="left:1170px;top:395px;width:6px;height:18px"></div>
<div class="t g1" style="left:1177px;top:395px;width:7px;height:11px"></div>
<div class="t r3" style="left:1177px;top:407px;width:7px;height:6px"></div>

<!-- ساخت مح -->
<div class="h" style="left:1126px;top:416px;width:58px;height:14px">...ساخت مح [+]</div>
<div class="t r0" style="left:1126px;top:432px;width:46px;height:22px">فاذر</div>
<div class="t g0" style="left:1126px;top:455px;width:46px;height:23px">فاراک</div>
<div class="t g2" style="left:1173px;top:432px;width:11px;height:25px"></div>
<div class="t r1" style="left:1173px;top:458px;width:11px;height:8px"></div>
<div class="t r0" style="left:1173px;top:467px;width:6px;height:11px"></div>
<div class="t r0" style="left:1180px;top:467px;width:4px;height:11px"></div>

<!-- کاشی -->
<div class="h" style="left:1126px;top:481px;width:58px;height:14px">...کاشی و س [+]</div>
<div class="t g4" style="left:1126px;top:497px;width:35px;height:46px;font-size:6px">کسعدی</div>
<div class="t r0" style="left:1163px;top:497px;width:21px;height:19px">...ک</div>
<div class="t r0" style="left:1163px;top:518px;width:11px;height:14px"></div>
<div class="t r0" style="left:1175px;top:518px;width:9px;height:14px"></div>
<div class="t r0" style="left:1163px;top:533px;width:11px;height:10px"></div>
<div class="t g0" style="left:1175px;top:533px;width:9px;height:10px"></div>

<!-- ماشین آلات و -->
<div class="h" style="left:1188px;top:347px;width:67px;height:14px">...ماشین آلات و [+]</div>
<div class="t r4" style="left:1188px;top:362px;width:19px;height:36px">...ب</div>
<div class="t g0" style="left:1209px;top:362px;width:20px;height:23px">...بتر</div>
<div class="t g2" style="left:1209px;top:386px;width:20px;height:12px"></div>
<div class="t r1" style="left:1231px;top:362px;width:13px;height:18px"></div>
<div class="t r0" style="left:1245px;top:362px;width:10px;height:18px"></div>
<div class="t r1" style="left:1231px;top:381px;width:13px;height:9px"></div>
<div class="t g0" style="left:1231px;top:391px;width:13px;height:7px"></div>
<div class="t g0" style="left:1245px;top:381px;width:10px;height:17px"></div>

<!-- لاستیک -->
<div class="h" style="left:1258px;top:347px;width:65px;height:14px">...لاستیک و پلا [+]</div>
<div class="t r0" style="left:1258px;top:362px;width:19px;height:19px">...پ</div>
<div class="t r4" style="left:1258px;top:382px;width:19px;height:16px">پاسا</div>
<div class="t r0" style="left:1279px;top:362px;width:16px;height:19px"></div>
<div class="t g2" style="left:1296px;top:362px;width:14px;height:19px"></div>
<div class="t r0" style="left:1311px;top:362px;width:12px;height:19px"></div>
<div class="t g0" style="left:1279px;top:382px;width:16px;height:16px"></div>
<div class="t r0" style="left:1296px;top:382px;width:14px;height:16px"></div>
<div class="t g0" style="left:1311px;top:382px;width:12px;height:11px"></div>
<div class="t r0" style="left:1311px;top:394px;width:12px;height:4px"></div>

<!-- اطلاعات -->
<div class="h" style="left:1188px;top:401px;width:67px;height:15px">...اطلاعات و ار [+]</div>
<div class="t g0" style="left:1188px;top:417px;width:21px;height:28px">...ها</div>
<div class="t r1" style="left:1210px;top:417px;width:20px;height:28px">...ا</div>
<div class="t g0" style="left:1231px;top:417px;width:24px;height:15px"></div>
<div class="t g0" style="left:1231px;top:434px;width:24px;height:11px"></div>

<!-- خدمات فنی -->
<div class="h" style="left:1258px;top:401px;width:65px;height:15px">... خدمات فني [+]</div>
<div class="t r1" style="left:1260px;top:417px;width:61px;height:28px;font-size:6px">خمهندسی</div>

<!-- هتل -->
<div class="h" style="left:1188px;top:448px;width:49px;height:15px">...هتل و ر [+]</div>
<div class="t g2" style="left:1188px;top:464px;width:28px;height:30px">گنا</div>
<div class="t g0" style="left:1217px;top:464px;width:19px;height:26px"></div>
<div class="t g0" style="left:1217px;top:491px;width:19px;height:3px"></div>

<!-- محصو -->
<div class="h" style="left:1188px;top:498px;width:49px;height:15px">...محصو [+]</div>
<div class="t g0" style="left:1188px;top:514px;width:35px;height:29px">چکاپا</div>
<div class="t g0" style="left:1225px;top:514px;width:11px;height:11px"></div>
<div class="t g1" style="left:1225px;top:526px;width:11px;height:9px"></div>
<div class="t g0" style="left:1225px;top:536px;width:11px;height:7px"></div>

<div class="h" style="left:1240px;top:448px;width:41px;height:15px">...محصو [+]</div>
<div class="t r0" style="left:1240px;top:464px;width:11px;height:23px"></div>
<div class="t g0" style="left:1252px;top:464px;width:29px;height:23px">...نخ</div>

<div class="h" style="left:1284px;top:448px;width:39px;height:15px">...است [+]</div>
<div class="t g0" style="left:1285px;top:464px;width:38px;height:23px">حفاري</div>

<div class="h" style="left:1240px;top:490px;width:32px;height:15px">... ا [+]</div>
<div class="t g4" style="left:1240px;top:506px;width:11px;height:18px"></div>
<div class="t g3" style="left:1253px;top:506px;width:16px;height:8px"></div>
<div class="t r1" style="left:1253px;top:515px;width:16px;height:9px"></div>
<div class="h" style="left:1240px;top:527px;width:32px;height:16px">... دبا [+]</div>

<div class="h" style="left:1274px;top:490px;width:26px;height:15px">... [+]</div>
<div class="t r0" style="left:1274px;top:506px;width:26px;height:2px"></div>
<div class="h" style="left:1302px;top:490px;width:21px;height:15px">... [+]</div>
<div class="t r0" style="left:1302px;top:506px;width:21px;height:2px"></div>
<div class="h" style="left:1274px;top:510px;width:22px;height:17px">... [+]</div>
<div class="t w" style="left:1274px;top:529px;width:22px;height:14px"></div>
<div class="t w" style="left:1298px;top:510px;width:12px;height:16px"></div>
<div class="t r1" style="left:1298px;top:527px;width:12px;height:6px"></div>
<div class="t w" style="left:1311px;top:510px;width:12px;height:16px"></div>
<div class="t r0" style="left:1311px;top:527px;width:12px;height:6px"></div>

<!-- legend -->
<div class="lg" style="left:28px;background:#ff0013">-5</div>
<div class="lg" style="left:56px;background:#d1000f">-4</div>
<div class="lg" style="left:84px;background:#a5000c">-3</div>
<div class="lg" style="left:112px;background:#74000a">-2</div>
<div class="lg" style="left:140px;background:#400005">-1</div>
<div class="lg" style="left:168px;background:#666666">0</div>
<div class="lg" style="left:196px;background:#1a7a00">1</div>
<div class="lg" style="left:224px;background:#22a000">2</div>
<div class="lg" style="left:252px;background:#26ab00">3</div>
<div class="lg" style="left:280px;background:#2dd000">4</div>
<div class="lg" style="left:308px;background:#33ff00">5</div>
</body></html>
